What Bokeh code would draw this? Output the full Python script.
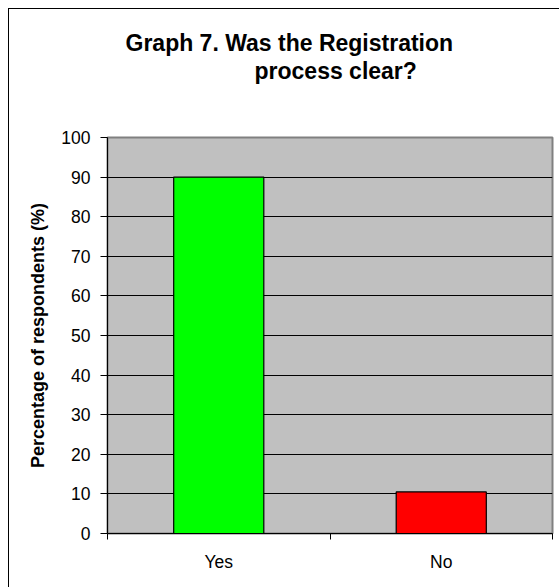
from bokeh.plotting import figure
from bokeh.models import (Range1d, FixedTicker, CustomJSTickFormatter, Title, LinearAxis)
from bokeh.embed import file_html
from bokeh.resources import INLINE

categories = ["Yes", "No"]
values = [90.0, 10.5]
colors = ["#00FF00", "#FF0000"]
y_ticks = [0, 10, 20, 30, 40, 50, 60, 70, 80, 90, 100]
title_line1 = "Graph 7. Was the Registration"
title_line2 = "process clear?"
y_label = "Percentage of respondents (%)"

FONT = "Liberation Sans"

x_pos = [i + 0.5 for i in range(len(categories))]

p = figure(width=551, height=579, output_backend="svg", toolbar_location=None,
           x_range=Range1d(0, len(categories)), y_range=Range1d(0, 100),
           min_border_left=98, min_border_right=8, min_border_top=128, min_border_bottom=55,
           x_axis_type=None)
p.title = None

p.styles = {"margin-left": "8px", "margin-top": "8px",
            "border-left": "1px solid black", "border-top": "1px solid black"}

p.background_fill_color = "#C0C0C0"
p.border_fill_color = "white"
p.outline_line_color = "#808080"
p.outline_line_width = 2

p.vbar(x=x_pos, top=values, width=0.405, fill_color=colors, line_color="black", line_width=1.2)

# titles (spacer keeps the two lines away from the plot area)
spacer = Title(text=" ", text_font=FONT, text_font_size="1px", standoff=51)
t2 = Title(text=title_line2, align="left", offset=147, text_font=FONT, text_font_size="23px",
           text_font_style="bold", text_color="black", standoff=0)
t1 = Title(text=title_line1, align="left", offset=18, text_font=FONT, text_font_size="23px",
           text_font_style="bold", text_color="black", standoff=0)
p.add_layout(spacer, "above")
p.add_layout(t2, "above")
p.add_layout(t1, "above")

# y axis
ya = p.yaxis[0]
ya.ticker = FixedTicker(ticks=y_ticks)
ya.axis_label = y_label
ya.axis_label_text_font = FONT
ya.axis_label_text_font_size = "18px"
ya.axis_label_text_font_style = "bold"
ya.axis_label_text_color = "black"
ya.axis_label_standoff = 10
ya.major_label_text_font = FONT
ya.major_label_text_font_size = "17.5px"
ya.major_label_text_color = "black"
ya.major_label_standoff = 10
ya.major_tick_in = 0
ya.major_tick_out = 7
ya.major_tick_line_color = "black"
ya.minor_tick_line_color = None
ya.axis_line_color = "black"

# x axis with ticks at category boundaries
xa = LinearAxis(ticker=FixedTicker(ticks=x_pos, minor_ticks=list(range(len(categories) + 1))),
                formatter=CustomJSTickFormatter(args=dict(cats=categories),
                                                code="return cats[Math.floor(tick)] || '';"))
xa.major_tick_in = 0
xa.major_tick_out = 0
xa.minor_tick_in = 0
xa.minor_tick_out = 6
xa.minor_tick_line_color = "black"
xa.axis_line_color = "black"
xa.major_label_text_font = FONT
xa.major_label_text_font_size = "17.5px"
xa.major_label_text_color = "black"
xa.major_label_standoff = 12
p.add_layout(xa, "below")

p.xgrid.grid_line_color = None
p.ygrid.ticker = FixedTicker(ticks=y_ticks)
p.ygrid.grid_line_color = "black"
p.ygrid.grid_line_width = 1

open("out.html", "w").write(file_html(p, INLINE))
